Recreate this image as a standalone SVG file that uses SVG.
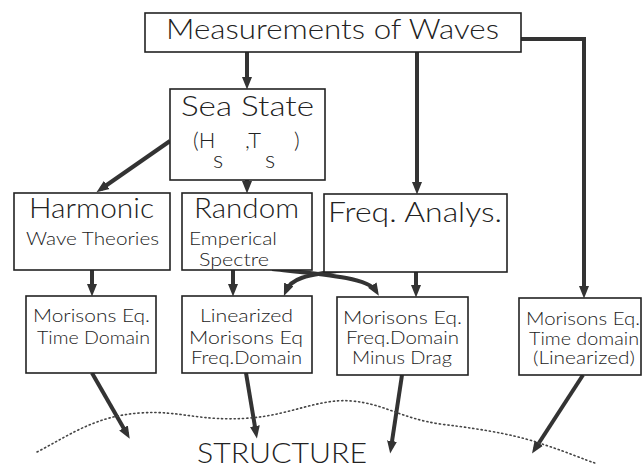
<svg xmlns="http://www.w3.org/2000/svg" width="642" height="468" viewBox="0 0 642 468">
<style>
.box{fill:#fff;stroke:#222;stroke-width:1.6}
.t{font-family:Lato,"Liberation Sans",sans-serif;font-weight:300;fill:#222}
.big{font-size:28px}
.mid{font-size:22px}
.sub{font-size:24px}
.sm{font-size:17px}
.c{fill:none;stroke:#333;stroke-width:4}
.dot{fill:none;stroke:#444;stroke-width:1.6;stroke-dasharray:1.2 3;stroke-linecap:round}
</style>
<defs>
<marker id="ah" markerUnits="userSpaceOnUse" markerWidth="13" markerHeight="11" refX="7" refY="5.5" orient="auto" viewBox="0 0 13 11">
<path d="M0,0.5 L12.5,5.5 L0,10.5 z" fill="#333"/>
</marker>
</defs>
<rect width="642" height="468" fill="#fff"/>
<g id="connectors">
<line class="c" x1="247" y1="52" x2="247" y2="84" marker-end="url(#ah)"/>
<line class="c" x1="417" y1="52" x2="417" y2="189" marker-end="url(#ah)"/>
<path class="c" d="M521,39 H584 V293" marker-end="url(#ah)"/>
<line class="c" x1="170" y1="141" x2="101" y2="189" marker-end="url(#ah)"/>
<line class="c" x1="247" y1="180" x2="247" y2="188" marker-end="url(#ah)"/>
<line class="c" x1="92" y1="270" x2="92" y2="291" marker-end="url(#ah)"/>
<line class="c" x1="233" y1="270" x2="233" y2="291" marker-end="url(#ah)"/>
<path class="c" d="M272,269 C330,275 368,278 376,291" marker-end="url(#ah)"/>
<path class="c" d="M352,269 C302,275 291,279 286,291" marker-end="url(#ah)"/>
<line class="c" x1="416" y1="272" x2="416" y2="292" marker-end="url(#ah)"/>
<line class="c" x1="92" y1="373" x2="127" y2="434" marker-end="url(#ah)"/>
<line class="c" x1="246" y1="373" x2="256" y2="433" marker-end="url(#ah)"/>
<line class="c" x1="402" y1="375" x2="391" y2="448" marker-end="url(#ah)"/>
<line class="c" x1="583" y1="375" x2="535" y2="449" marker-end="url(#ah)"/>
</g>
<path class="dot" d="M37,452 C70,435 95,416 140,413 C180,410 200,422 250,418 C290,415 320,398 352,401 C385,404 400,418 440,424 C490,430 520,436 545,445 C570,453 585,460 595,463"/>
<g id="measurements">
<rect class="box" x="145" y="13" width="376" height="39"/>
<text class="t big" x="166" y="39" textLength="333" lengthAdjust="spacingAndGlyphs">Measurements of Waves</text>
</g>
<g id="seastate">
<rect class="box" x="170" y="89" width="155" height="91"/>
<text class="t big" x="181" y="116" textLength="133" lengthAdjust="spacingAndGlyphs">Sea State</text>
<text class="t mid" x="193" y="148">(H</text>
<text class="t sub" x="213" y="168">s</text>
<text class="t mid" x="245" y="148">,T</text>
<text class="t sub" x="265" y="168">s</text>
<text class="t mid" x="294" y="148">)</text>
</g>
<g id="harmonic">
<rect class="box" x="14" y="193" width="156" height="77"/>
<text class="t big" x="29" y="218" textLength="125" lengthAdjust="spacingAndGlyphs">Harmonic</text>
<text class="t sm" x="26" y="245" textLength="133" lengthAdjust="spacingAndGlyphs">Wave Theories</text>
</g>
<g id="random">
<rect class="box" x="182" y="193" width="130" height="77"/>
<text class="t big" x="194" y="218" textLength="105" lengthAdjust="spacingAndGlyphs">Random</text>
<text class="t sm" x="189" y="245" textLength="88" lengthAdjust="spacingAndGlyphs">Emperical</text>
<text class="t sm" x="199" y="266" textLength="70" lengthAdjust="spacingAndGlyphs">Spectre</text>
</g>
<g id="freqanalys">
<rect class="box" x="324" y="194" width="183" height="78"/>
<text class="t big" x="328" y="222" textLength="174" lengthAdjust="spacingAndGlyphs">Freq. Analys.</text>
</g>
<g id="morisons-time">
<rect class="box" x="26" y="296" width="130" height="77"/>
<text class="t sm" x="33" y="322" textLength="117" lengthAdjust="spacingAndGlyphs">Morisons Eq.</text>
<text class="t sm" x="37" y="344" textLength="113" lengthAdjust="spacingAndGlyphs">Time Domain</text>
</g>
<g id="linearized">
<rect class="box" x="182" y="296" width="130" height="77"/>
<text class="t sm" x="200" y="322" textLength="93" lengthAdjust="spacingAndGlyphs">Linearized</text>
<text class="t sm" x="189" y="344" textLength="114" lengthAdjust="spacingAndGlyphs">Morisons Eq</text>
<text class="t sm" x="191" y="364" textLength="111" lengthAdjust="spacingAndGlyphs">Freq.Domain</text>
</g>
<g id="minus-drag">
<rect class="box" x="337" y="297" width="131" height="78"/>
<text class="t sm" x="343" y="324" textLength="119" lengthAdjust="spacingAndGlyphs">Morisons Eq.</text>
<text class="t sm" x="346" y="344" textLength="113" lengthAdjust="spacingAndGlyphs">Freq.Domain</text>
<text class="t sm" x="352" y="364" textLength="100" lengthAdjust="spacingAndGlyphs">Minus Drag</text>
</g>
<g id="morisons-linearized">
<rect class="box" x="519" y="298" width="122" height="77"/>
<text class="t sm" x="526" y="325" textLength="114" lengthAdjust="spacingAndGlyphs">Morisons Eq.</text>
<text class="t sm" x="529" y="345" textLength="110" lengthAdjust="spacingAndGlyphs">Time domain</text>
<text class="t sm" x="533" y="364" textLength="102" lengthAdjust="spacingAndGlyphs">(Linearized)</text>
</g>
<g id="structure">
<text class="t" style="font-size:27px" x="197" y="463" textLength="170" lengthAdjust="spacingAndGlyphs">STRUCTURE</text>
</g>
</svg>
